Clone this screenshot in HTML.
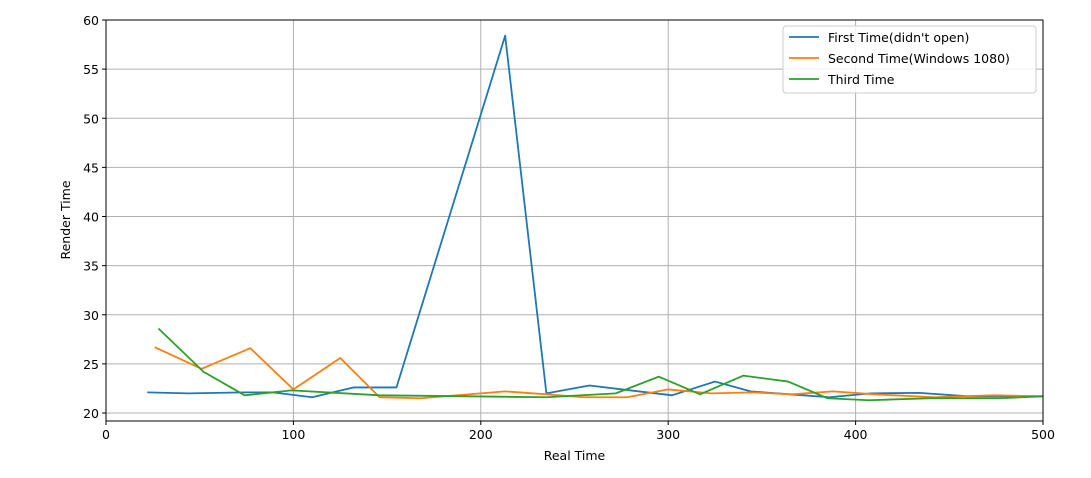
<!DOCTYPE html>
<html><head><meta charset="utf-8"><style>
body{margin:0;background:#fff;}
svg{display:block;font-family:"DejaVu Sans","Liberation Sans",sans-serif;}
</style></head><body>
<svg id="chart" width="1091" height="478" xmlns="http://www.w3.org/2000/svg"></svg>
<script>
const xTicks=[0,100,200,300,400,500];
const yTicks=[20,25,30,35,40,45,50,55,60];
const seriesNames=["First Time(didn't open)","Second Time(Windows 1080)","Third Time"];
const seriesColors=["#1f77b4","#ff7f0e","#2ca02c"];
const firstX=[22,44,74,89,110,132,155,213,235,258,302,325,344,365,386,408,434,460,500];
const firstY=[22.1,22.0,22.1,22.1,21.6,22.6,22.6,58.4,22.0,22.8,21.8,23.2,22.2,21.9,21.6,22.0,22.05,21.7,21.7];
const secondX=[26,51,77,100,125,146,168,213,235,255,278,300,323,345,366,388,410,442,474,500];
const secondY=[26.7,24.5,26.6,22.4,25.6,21.6,21.5,22.2,21.9,21.6,21.6,22.4,22.0,22.1,21.9,22.2,21.9,21.6,21.8,21.7];
const thirdX=[28,52,74,99,146,194,235,272,295,317,340,364,385,407,440,477,500];
const thirdY=[28.6,24.2,21.8,22.3,21.8,21.7,21.6,22.0,23.7,21.9,23.8,23.2,21.5,21.3,21.5,21.5,21.7];

const L=106,R=1043,T=20,B=421;
const sx=v=>L+(v-0)*(R-L)/500;
const sy=v=>413-(v-20)*9.825;
const svg=document.getElementById('chart');
const NS="http://www.w3.org/2000/svg";
function mk(tag,attrs,parent){const e=document.createElementNS(NS,tag);for(const k in attrs)e.setAttribute(k,attrs[k]);(parent||svg).appendChild(e);return e;}

const grid=mk('g',{});


xTicks.forEach(t=>{mk('line',{x1:sx(t),x2:sx(t),y1:T,y2:B,stroke:'#b0b0b0','stroke-width':1},grid);});
yTicks.forEach(t=>{mk('line',{x1:L,x2:R,y1:sy(t),y2:sy(t),stroke:'#b0b0b0','stroke-width':1},grid);});

const xs=[firstX,secondX,thirdX],ys=[firstY,secondY,thirdY];
const lineNames=['first-time-line','second-time-line','third-time-line'];
xs.forEach((X,i)=>{
  const p=mk('polyline',{points:X.map((x,j)=>sx(x)+','+sy(ys[i][j])).join(' '),fill:'none',stroke:seriesColors[i],'stroke-width':1.8,'stroke-linejoin':'round'});
  
  
});

const frame=mk('rect',{x:L,y:T,width:R-L,height:B-T,fill:'none',stroke:'#000','stroke-width':1});



const xa=mk('g',{});


xTicks.forEach(t=>{
  mk('line',{x1:sx(t),x2:sx(t),y1:B,y2:B+4,stroke:'#000'},xa);
  const tx=mk('text',{x:sx(t),y:B+18,'text-anchor':'middle','font-size':12.5},xa);tx.textContent=t;
});
const ya=mk('g',{});


yTicks.forEach(t=>{
  mk('line',{x1:L-4,x2:L,y1:sy(t),y2:sy(t),stroke:'#000'},ya);
  const tx=mk('text',{x:L-7,y:sy(t)+5,'text-anchor':'end','font-size':12.5},ya);tx.textContent=t;
});
const xt=mk('text',{x:(L+R)/2,y:460,'text-anchor':'middle','font-size':12.5});
xt.textContent='Real Time';


const yt=mk('text',{x:0,y:0,'text-anchor':'middle','font-size':12.5,transform:'translate(70,220) rotate(-90)'});
yt.textContent='Render Time';



const lg=mk('g',{});


mk('rect',{x:783,y:26,width:253,height:67,rx:3,fill:'#fff','fill-opacity':0.85,stroke:'#ccc'},lg);
seriesNames.forEach((n,i)=>{
  const y=37+i*21;
  mk('line',{x1:789,x2:819,y1:y,y2:y,stroke:seriesColors[i],'stroke-width':1.8},lg);
  const t=mk('text',{x:828,y:y+5,'font-size':12.5},lg);t.textContent=n;
  
  
});
</script>
</body></html>
